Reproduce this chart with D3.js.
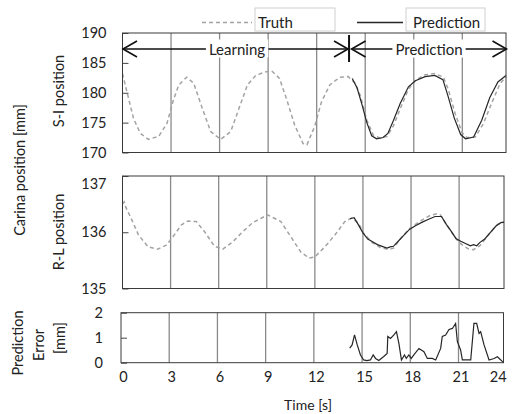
<!DOCTYPE html>
<html>
<head>
<meta charset="utf-8">
<script src="https://cdn.jsdelivr.net/npm/d3@7.9.0/dist/d3.min.js"></script>
<style>
  body { margin: 0; background: #fff; }
  svg text { font-family: Lato, "Open Sans", sans-serif; fill: #222; }
</style>
</head>
<body>
<svg id="chart" width="514" height="414"></svg>
<script>
// S-I position [mm]
const siTruthTime = [0, 0.27, 0.68, 1.1, 1.6, 2.24, 2.75, 3.17, 3.48, 3.96, 4.4, 4.93, 5.45, 6.07, 6.69, 7.2, 7.72, 8.2, 8.7, 9.2, 9.7, 10.12, 10.64, 11.16, 11.4, 11.88, 12.3, 12.81, 13.43, 13.95, 14.37, 14.7, 15.1, 15.5, 15.93, 16.34, 16.75, 17.16, 17.67, 18.1, 18.7, 19.3, 19.83, 20.14, 20.56, 20.97, 21.28, 21.8, 22.3, 22.82, 23.33, 23.7];
const siTruth = [183.2, 180.2, 175.7, 173.2, 172.2, 172.7, 174.9, 179.0, 181.3, 182.6, 181.6, 177.4, 173.5, 172.2, 173.5, 177.4, 181.3, 182.8, 183.4, 183.7, 182.4, 179.1, 174.6, 171.5, 171.3, 174.4, 178.5, 181.3, 182.6, 182.7, 181.6, 179.5, 175.4, 172.9, 172.4, 172.7, 174.5, 177.3, 180.6, 182.1, 183.0, 183.2, 182.6, 180.5, 176.5, 173.4, 172.5, 172.6, 174.8, 178.3, 181.5, 182.7];
const siPredTime = [14.2, 14.5, 14.8, 15.1, 15.4, 15.7, 16.1, 16.4, 16.75, 17.16, 17.67, 18.1, 18.7, 19.3, 19.8, 20.1, 20.5, 20.9, 21.2, 21.7, 22.2, 22.7, 23.2, 23.7];
const siPred = [182.4, 180.8, 178.0, 175.0, 172.8, 172.3, 172.5, 173.2, 175.4, 178.2, 181.0, 182.0, 182.7, 182.9, 182.2, 179.6, 175.8, 173.0, 172.3, 172.6, 175.4, 179.2, 181.8, 182.9];

// R-L position [mm]
const rlTruthTime = [0, 0.1, 0.2, 0.58, 1.0, 1.6, 2.2, 2.73, 3.15, 3.67, 4.08, 4.6, 5.12, 5.74, 6.26, 6.88, 7.5, 8.12, 9.05, 9.88, 10.5, 11.12, 11.64, 12.0, 12.62, 13.25, 13.87, 14.28, 14.7, 15.05, 15.56, 16.08, 16.6, 16.91, 17.44, 17.96, 18.58, 19.2, 19.6, 19.83, 20.25, 20.87, 21.17, 21.6, 21.9, 22.3, 22.87, 23.4, 23.8];
const rlTruth = [136.50, 136.54, 136.45, 136.22, 135.95, 135.74, 135.70, 135.77, 135.92, 136.13, 136.20, 136.19, 136.01, 135.75, 135.70, 135.83, 136.01, 136.17, 136.31, 136.19, 135.92, 135.65, 135.54, 135.56, 135.74, 135.95, 136.19, 136.25, 136.17, 135.98, 135.82, 135.73, 135.69, 135.72, 135.92, 136.08, 136.20, 136.30, 136.33, 136.31, 136.12, 135.86, 135.78, 135.70, 135.69, 135.76, 135.97, 136.14, 136.18];
const rlPredTime = [14.2, 14.45, 14.7, 15.0, 15.3, 15.6, 15.9, 16.2, 16.5, 16.7, 16.9, 17.2, 17.5, 17.9, 18.3, 18.7, 19.1, 19.5, 19.9, 20.2, 20.5, 20.8, 21.1, 21.4, 21.7, 21.9, 22.1, 22.3, 22.6, 22.9, 23.3, 23.6, 23.8];
const rlPred = [136.24, 136.26, 136.14, 135.99, 135.88, 135.83, 135.78, 135.75, 135.72, 135.74, 135.75, 135.84, 135.93, 136.05, 136.12, 136.18, 136.23, 136.28, 136.28, 136.14, 136.02, 135.89, 135.84, 135.80, 135.76, 135.78, 135.76, 135.82, 135.88, 135.98, 136.11, 136.17, 136.18];

// Prediction error [mm]
const errTime = [14.23, 14.38, 14.53, 14.7, 14.9, 15.1, 15.3, 15.52, 15.69, 15.84, 16.04, 16.35, 16.56, 16.6, 16.77, 16.98, 17.14, 17.29, 17.45, 17.64, 17.75, 17.91, 18.06, 18.22, 18.54, 18.85, 19.06, 19.37, 19.58, 19.89, 19.99, 20.2, 20.41, 20.62, 20.82, 20.93, 21.13, 21.24, 21.45, 21.76, 21.96, 22.13, 22.28, 22.38, 22.59, 22.9, 23.21, 23.42, 23.63, 23.8];
const errVal = [0.58, 0.71, 1.11, 0.71, 0.31, 0.11, 0.08, 0.11, 0.31, 0.17, 0.09, 0.25, 0.37, 1.05, 0.97, 1.11, 1.24, 0.77, 0.11, 0.31, 0.17, 0.31, 0.17, 0.31, 0.57, 0.44, 0.17, 0.17, 0.11, 0.57, 1.05, 1.11, 1.33, 1.37, 1.57, 0.84, 0.51, 0.11, 0.11, 0.11, 1.57, 1.57, 1.17, 1.24, 0.71, 0.11, 0.17, 0.24, 0.11, 0.0];

const gridTimes = [3, 6, 9, 12, 15, 18, 21];
const timeTicks = [0, 3, 6, 9, 12, 15, 18, 21, 24];
const splitTime = 14;

const svg = d3.select('#chart');

const panels = [
  { x: [122.5, 506], xMax: 23.7, y: [152.5, 33], dom: [170, 190], ticks: [170, 175, 180, 185, 190],
    truth: [siTruthTime, siTruth], pred: [siPredTime, siPred] },
  { x: [122.5, 504], xMax: 23.8, y: [288.5, 176], dom: [135, 137], ticks: [135, 136, 137],
    truth: [rlTruthTime, rlTruth], pred: [rlPredTime, rlPred] },
  { x: [121, 503.5], xMax: 23.8, y: [362.7, 312.7], dom: [0, 2], ticks: [0, 1, 2],
    truth: null, pred: [errTime, errVal] }
];

panels.forEach((p, i) => {
  const x = d3.scaleLinear().domain([0, p.xMax]).range(p.x);
  const y = d3.scaleLinear().domain(p.dom).range(p.y);
  p.xs = x; p.ys = y;
  const g = svg.append('g');

  // vertical grid lines
  g.selectAll('line.grid')
    .data(gridTimes)
    .join('line')
    .attr('x1', d => x(d)).attr('x2', d => x(d))
    .attr('y1', y.range()[1]).attr('y2', y.range()[0])
    .attr('stroke', '#8a8a8a')
    .attr('stroke-width', 1.3);

  // y axis, ticks pointing inward
  const ax = g.append('g')
    .attr('transform', `translate(${p.x[0]},0)`)
    .call(d3.axisLeft(y).tickValues(p.ticks).tickFormat(d3.format('d'))
      .tickSizeInner(-6).tickSizeOuter(0).tickPadding(i === 2 ? 18 : 16));
  ax.select('.domain').remove();
  ax.selectAll('line').attr('stroke', '#444');
  ax.selectAll('text').style('font-size', '14.5px').attr('fill', '#222');
  if (i === 1) ax.selectAll('.tick').filter(d => d === 137).select('text').attr('dy', '0.85em');

  // lines
  const line = d3.line().x(d => x(d[0])).y(d => y(d[1]));
  if (p.truth) {
    g.append('path')
      .datum(d3.zip(p.truth[0], p.truth[1]))
      .attr('d', line)
      .attr('fill', 'none')
      .attr('stroke', '#a3a3a3')
      .attr('stroke-width', 1.5)
      .attr('stroke-dasharray', '4,3');
  }
  g.append('path')
    .datum(d3.zip(p.pred[0], p.pred[1]))
    .attr('d', line)
    .attr('fill', 'none')
    .attr('stroke', '#262626')
    .attr('stroke-width', 1.2);

  // plot border
  g.append('rect')
    .attr('x', p.x[0]).attr('y', p.y[1])
    .attr('width', p.x[1] - p.x[0]).attr('height', p.y[0] - p.y[1])
    .attr('fill', 'none')
    .attr('stroke', '#3a3a3a')
    .attr('stroke-width', 1);
});

// time axis under the last panel
const xb = panels[2].xs;
const xAxis = svg.append('g')
  .attr('transform', `translate(0,${panels[2].y[0]})`)
  .call(d3.axisBottom(xb).tickValues(timeTicks).tickSize(0).tickPadding(9));
xAxis.select('.domain').remove();
xAxis.selectAll('text').style('font-size', '14.5px').attr('fill', '#222')
  .attr('dx', d => d === 24 ? -9 : 2);

// Learning / Prediction arrows in the top panel
const xt = panels[0].xs;
const ay = 49;
const ann = svg.append('g').attr('stroke', '#111').attr('stroke-width', 1.6).attr('fill', 'none');
function arrow(x0, x1, label, cx) {
  ann.append('line').attr('x1', x0).attr('x2', x1).attr('y1', ay).attr('y2', ay);
  ann.append('path').attr('d', `M${x0 + 14},${ay - 8}L${x0},${ay}L${x0 + 14},${ay + 8}`);
  ann.append('path').attr('d', `M${x1 - 14},${ay - 8}L${x1},${ay}L${x1 - 14},${ay + 8}`);
  const lg = svg.append('g');
  const bg = lg.append('rect').attr('fill', '#fff');
  const t = lg.append('text').attr('x', cx).attr('y', ay + 5.5)
    .attr('text-anchor', 'middle').style('font-size', '15px').text(label);
  const b = t.node().getBBox();
  bg.attr('x', b.x - 3).attr('y', b.y).attr('width', b.width + 6).attr('height', b.height);
}
const xs = xt(splitTime);
arrow(xt(0) + 0.5, xs - 1, 'Learning', 237);
arrow(xs + 2.5, 506.5, 'Prediction', 429);
svg.append('line').attr('x1', xs).attr('x2', xs).attr('y1', 35).attr('y2', 62)
  .attr('stroke', '#111').attr('stroke-width', 2);

// legend
const legend = [
  { label: 'Truth', x0: 202, x1: 252, box: [255, 335], dash: '4,3', color: '#a3a3a3' },
  { label: 'Prediction', x0: 357, x1: 403, box: [406, 485], dash: null, color: '#262626' }
];
legend.forEach(l => {
  svg.append('rect').attr('x', l.box[0]).attr('y', 8).attr('width', l.box[1] - l.box[0]).attr('height', 23)
    .attr('fill', '#fff').attr('stroke', '#d0d0d0');
  svg.append('line').attr('x1', l.x0).attr('x2', l.x1).attr('y1', 22.5).attr('y2', 22.5)
    .attr('stroke', l.color).attr('stroke-width', 1.3).attr('stroke-dasharray', l.dash);
  svg.append('text').attr('x', l.box[0] + (l.label === 'Truth' ? 3 : 7)).attr('y', 27.5)
    .style('font-size', '15px').text(l.label);
});

// axis titles
function vtext(x, y, s) {
  svg.append('text').attr('transform', `translate(${x},${y}) rotate(-90)`)
    .attr('text-anchor', 'middle').attr('dy', '0.35em').style('font-size', '14.5px').text(s);
}
vtext(20, 170, 'Carina position [mm]');
vtext(59, 91, 'S-I position');
vtext(59, 232, 'R-L position');
vtext(18, 343, 'Prediction');
vtext(39, 345, 'Error');
vtext(60, 338, '[mm]');

svg.append('text').attr('x', 308).attr('y', 409.5).attr('text-anchor', 'middle')
  .style('font-size', '14px').text('Time [s]');
</script>
</body>
</html>
